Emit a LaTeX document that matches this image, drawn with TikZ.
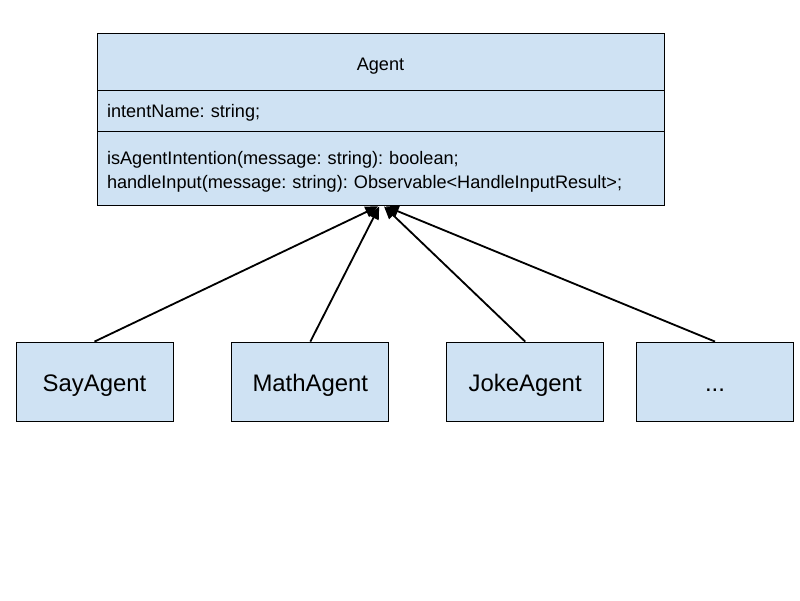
\documentclass[tikz,border=0pt]{standalone}
\usepackage{fontspec}
\setmainfont{Liberation Sans}
\usetikzlibrary{positioning,arrows.meta}
\definecolor{boxblue}{HTML}{CFE2F3}
\frenchspacing
\tikzset{
    umlpart/.style={draw, fill=boxblue, line width=0.6pt, outer sep=0pt, minimum width=14.175cm,
        text width=13.675cm, inner xsep=0.25cm, inner ysep=0pt, font=\fontsize{12.9}{17}\selectfont},
    subbox/.style={draw, fill=boxblue, line width=0.6pt, minimum width=3.925cm,
        minimum height=1.975cm, text height=17.5pt, text depth=3pt, font=\fontsize{17}{20}\selectfont},
    inherit/.style={-{Triangle[length=9pt,width=8pt]}, line width=1.3pt}
}
\begin{document}
\begin{tikzpicture}
    \useasboundingbox (0,0) rectangle (20,-15);

    % Agent class
    \node[umlpart, align=center, minimum height=1.425cm, text height=15.5pt, text depth=2.7pt] (agent)
        at (9.5125,-1.5375) {Agent};
    \node[umlpart, align=left, minimum height=1.025cm, text height=12.2pt, text depth=2.7pt,
        below=0pt of agent] (fields) {intentName: string;};
    \node[umlpart, align=left, minimum height=1.85cm, text height=15pt, below=0pt of fields] (methods)
        {isAgentIntention(message: string): boolean;\\handleInput(message: string): Observable<HandleInputResult>;};

    % Subclasses
    \node[subbox] (say) at (2.3625,-9.5375) {SayAgent};
    \node[subbox, right=1.45cm of say] (math) {MathAgent};
    \node[subbox, right=1.425cm of math] (joke) {JokeAgent};
    \node[subbox, right=0.8cm of joke] (more) {...};

    % Arrow tips
    \coordinate (tipsay) at (9.45,-5.16);
    \coordinate (tipmath) at (9.48,-5.16);
    \coordinate (tipjoke) at (9.6,-5.16);
    \coordinate (tipmore) at (9.65,-5.16);

    \draw[inherit] (say.north) -- (tipsay);
    \draw[inherit] (math.north) -- (tipmath);
    \draw[inherit] (joke.north) -- (tipjoke);
    \draw[inherit] (more.north) -- (tipmore);
\end{tikzpicture}
\end{document}
